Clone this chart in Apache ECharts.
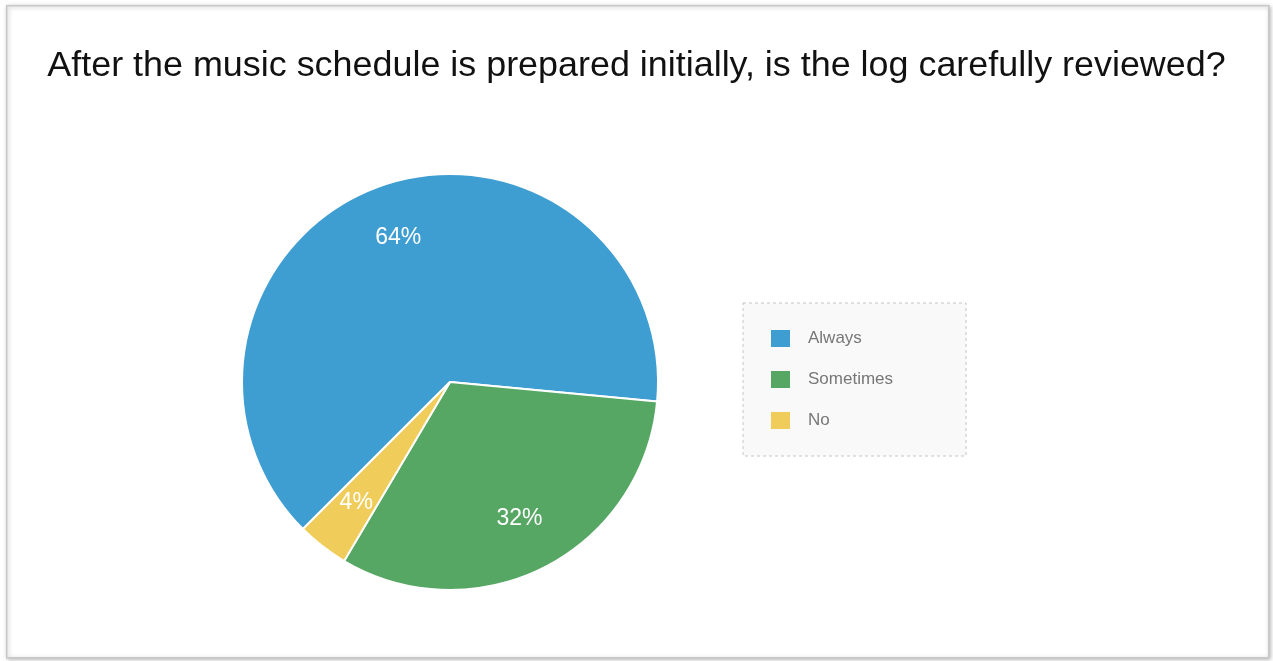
<!DOCTYPE html>
<html>
<head>
<meta charset="utf-8">
<script src="https://cdn.jsdelivr.net/npm/echarts@6/dist/echarts.min.js"></script>
<style>
html,body{margin:0;padding:0;background:#fff;}
#chart{width:1273px;height:661px;}
</style>
</head>
<body>
<div id="chart"></div>
<script>
const titleText = 'After the music schedule is prepared initially, is the log carefully reviewed?';
const categories = ['Always', 'Sometimes', 'No'];
const values = [64, 32, 4];
const colors = ['#3e9ed2', '#57a764', '#f0cd5a'];

const pieData = categories.map((c, i) => ({ name: c, value: values[i], itemStyle: { color: colors[i] } }));
const labelData = categories.map((c, i) => ({ name: c, value: values[i] }));

const chart = echarts.init(document.getElementById('chart'), null, { renderer: 'canvas' });
chart.setOption({
  animation: false,
  backgroundColor: '#ffffff',
  graphic: [{
    type: 'rect',
    left: 6, top: 5, z: -10,
    shape: { width: 1262, height: 652 },
    style: { fill: '#fff', stroke: '#c8c8c8', lineWidth: 1.5, shadowBlur: 4, shadowColor: 'rgba(0,0,0,0.25)', shadowOffsetX: 1, shadowOffsetY: 1 }
  }],
  title: {
    text: titleText,
    left: 'center',
    top: 43,
    textStyle: { fontFamily: 'Liberation Sans, Arial, sans-serif', fontSize: 35.9, fontWeight: 'normal', color: '#111' }
  },
  legend: {
    orient: 'vertical',
    left: 743,
    top: 303,
    data: categories,
    itemWidth: 19,
    itemHeight: 17,
    itemGap: 24,
    icon: 'rect',
    padding: [27, 73, 27, 28],
    borderColor: '#c4c4c4',
    borderWidth: 1,
    borderType: [3, 3],
    backgroundColor: '#f9f9f9',
    textStyle: { fontFamily: 'Liberation Sans, Arial, sans-serif', fontSize: 17, color: '#777', padding: [0, 0, 0, 13] },
    itemStyle: { borderWidth: 0 }
  },
  series: [{
    type: 'pie',
    center: [450, 382],
    radius: [0, 208],
    startAngle: 225,
    clockwise: true,
    label: { show: false },
    labelLine: { show: false },
    itemStyle: { borderColor: '#fff', borderWidth: 2 },
    emphasis: { disabled: true },
    data: pieData
  }, {
    type: 'pie',
    center: [450, 382],
    radius: [92, 208],
    startAngle: 225,
    clockwise: true,
    silent: true,
    legendHoverLink: false,
    itemStyle: { color: 'rgba(0,0,0,0)', borderWidth: 0 },
    label: {
      show: true,
      position: 'inside',
      formatter: '{d}%',
      fontFamily: 'Liberation Sans, Arial, sans-serif',
      fontSize: 23,
      color: '#fff'
    },
    labelLine: { show: false },
    emphasis: { disabled: true },
    data: labelData
  }]
});
</script>
</body>
</html>
